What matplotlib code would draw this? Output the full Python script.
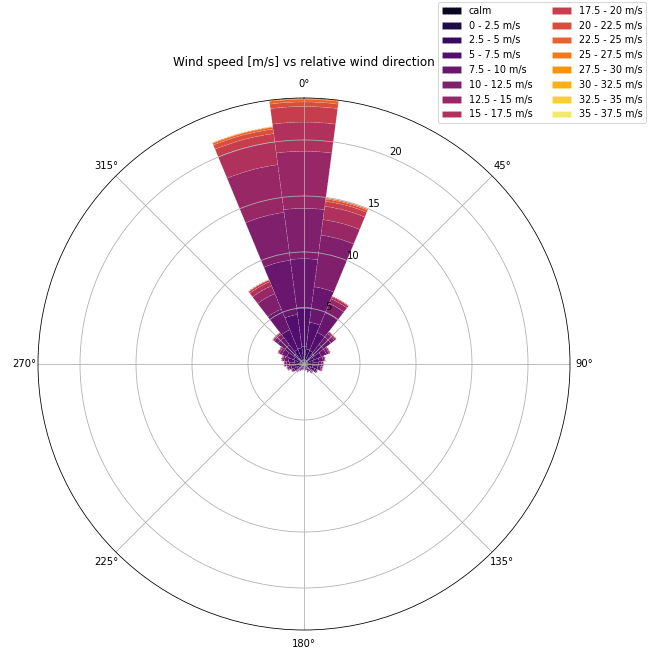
import numpy as np
import matplotlib
matplotlib.use("Agg")
import matplotlib.pyplot as plt

# Relative wind direction sectors (degrees, clockwise from bow)
directions = [0, 15, 30, 45, 60, 75, 90, 105, 120, 135, 150, 165,
              180, 195, 210, 225, 240, 255, 270, 285, 300, 315, 330, 345]

speed_labels = ["calm", "0 - 2.5 m/s", "2.5 - 5 m/s", "5 - 7.5 m/s",
                "7.5 - 10 m/s", "10 - 12.5 m/s", "12.5 - 15 m/s",
                "15 - 17.5 m/s", "17.5 - 20 m/s", "20 - 22.5 m/s",
                "22.5 - 25 m/s", "25 - 27.5 m/s", "27.5 - 30 m/s",
                "30 - 32.5 m/s", "32.5 - 35 m/s", "35 - 37.5 m/s"]

# Frequency [%] per direction sector for each speed class
calm = [0.05, 0.05, 0.05, 0.04, 0.03, 0.03, 0.03, 0.03, 0.02, 0.02, 0.02, 0.02,
        0.02, 0.02, 0.02, 0.02, 0.03, 0.03, 0.03, 0.03, 0.03, 0.04, 0.05, 0.05]
ws_0_2p5 = [0.30, 0.30, 0.35, 0.30, 0.28, 0.25, 0.25, 0.25, 0.22, 0.20, 0.17, 0.14,
            0.12, 0.13, 0.15, 0.18, 0.22, 0.25, 0.27, 0.28, 0.30, 0.30, 0.35, 0.30]
ws_2p5_5 = [1.20, 1.00, 0.90, 0.80, 0.65, 0.55, 0.52, 0.50, 0.42, 0.35, 0.28, 0.22,
            0.19, 0.21, 0.26, 0.33, 0.40, 0.47, 0.53, 0.58, 0.66, 0.80, 1.00, 1.10]
ws_5_7p5 = [3.50, 2.40, 1.75, 1.05, 0.72, 0.55, 0.48, 0.47, 0.37, 0.28, 0.21, 0.15,
            0.13, 0.14, 0.18, 0.25, 0.32, 0.40, 0.47, 0.53, 0.68, 1.00, 1.90, 3.00]
ws_7p5_10 = [4.35, 3.20, 1.90, 0.85, 0.50, 0.35, 0.30, 0.28, 0.21, 0.15, 0.10, 0.07,
             0.05, 0.06, 0.08, 0.12, 0.17, 0.23, 0.28, 0.34, 0.47, 0.82, 2.00, 4.90]
ws_10_12p5 = [4.50, 4.65, 0.90, 0.40, 0.24, 0.15, 0.13, 0.12, 0.09, 0.06, 0.04, 0.03,
              0.02, 0.02, 0.03, 0.05, 0.08, 0.11, 0.14, 0.17, 0.24, 0.38, 1.50, 4.30]
ws_12p5_15 = [5.10, 1.40, 0.45, 0.15, 0.10, 0.07, 0.05, 0.05, 0.04, 0.02, 0.02, 0.01,
              0.01, 0.01, 0.02, 0.03, 0.04, 0.06, 0.07, 0.08, 0.12, 0.15, 0.75, 4.30]
ws_15_17p5 = [2.60, 1.20, 0.20, 0.07, 0.05, 0.03, 0.03, 0.03, 0.02, 0.01, 0.01, 0.01,
              0.01, 0.01, 0.01, 0.01, 0.02, 0.03, 0.04, 0.05, 0.06, 0.07, 0.40, 2.05]
ws_17p5_20 = [1.40, 0.45, 0.07, 0.03, 0.02, 0.02, 0.01, 0.02, 0.01, 0.01, 0.00, 0.00,
              0.00, 0.00, 0.00, 0.01, 0.02, 0.02, 0.02, 0.03, 0.03, 0.03, 0.17, 0.75]
ws_20_22p5 = [0.40, 0.20, 0.02, 0.01, 0.01, 0.00, 0.00, 0.00, 0.00, 0.00, 0.00, 0.00,
              0.00, 0.00, 0.00, 0.00, 0.00, 0.00, 0.00, 0.01, 0.01, 0.01, 0.05, 0.40]
ws_22p5_25 = [0.25, 0.10, 0.01, 0.00, 0.00, 0.00, 0.00, 0.00, 0.00, 0.00, 0.00, 0.00,
              0.00, 0.00, 0.00, 0.00, 0.00, 0.00, 0.00, 0.00, 0.00, 0.00, 0.02, 0.17]
ws_25_27p5 = [0.08, 0.04, 0.00, 0.00, 0.00, 0.00, 0.00, 0.00, 0.00, 0.00, 0.00, 0.00,
              0.00, 0.00, 0.00, 0.00, 0.00, 0.00, 0.00, 0.00, 0.00, 0.00, 0.01, 0.06]
ws_27p5_30 = [0.02, 0.01, 0.00, 0.00, 0.00, 0.00, 0.00, 0.00, 0.00, 0.00, 0.00, 0.00,
              0.00, 0.00, 0.00, 0.00, 0.00, 0.00, 0.00, 0.00, 0.00, 0.00, 0.00, 0.02]
ws_30_32p5 = [0.0] * 24
ws_32p5_35 = [0.0] * 24
ws_35_37p5 = [0.0] * 24

speed_classes = [calm, ws_0_2p5, ws_2p5_5, ws_5_7p5, ws_7p5_10, ws_10_12p5,
                 ws_12p5_15, ws_15_17p5, ws_17p5_20, ws_20_22p5, ws_22p5_25,
                 ws_25_27p5, ws_27p5_30, ws_30_32p5, ws_32p5_35, ws_35_37p5]

theta = np.deg2rad(directions)
width = np.deg2rad(360 / len(directions))
n_cls = len(speed_classes)
colors = plt.cm.inferno(np.arange(1, n_cls + 1) / (n_cls + 1))

fig = plt.figure(figsize=(9.0, 650 / 72), dpi=72)
ax = fig.add_axes([38 / 648, 20 / 650, 532 / 648, 532 / 650], projection="polar")
ax.set_theta_zero_location("N")
ax.set_theta_direction(-1)

bottom = np.zeros(len(directions))
for vals, col, lab in zip(speed_classes, colors, speed_labels):
    vals = np.asarray(vals, dtype=float)
    ax.bar(theta, vals, width=width, bottom=bottom, color=col, label=lab,
           edgecolor=(1, 1, 1, 0.3), linewidth=0.5, linestyle=(0, (4, 3)),
           align="center")
    bottom += vals

ax.set_rmax(bottom.max())
ax.set_title("Wind speed [m/s] vs relative wind direction", fontsize=12, pad=13)

fig.legend(loc="upper left", bbox_to_anchor=(438 / 648, 1 - 2 / 650),
           borderaxespad=0, ncol=2, fontsize=9.6)

fig.savefig("out.png", dpi=72)
